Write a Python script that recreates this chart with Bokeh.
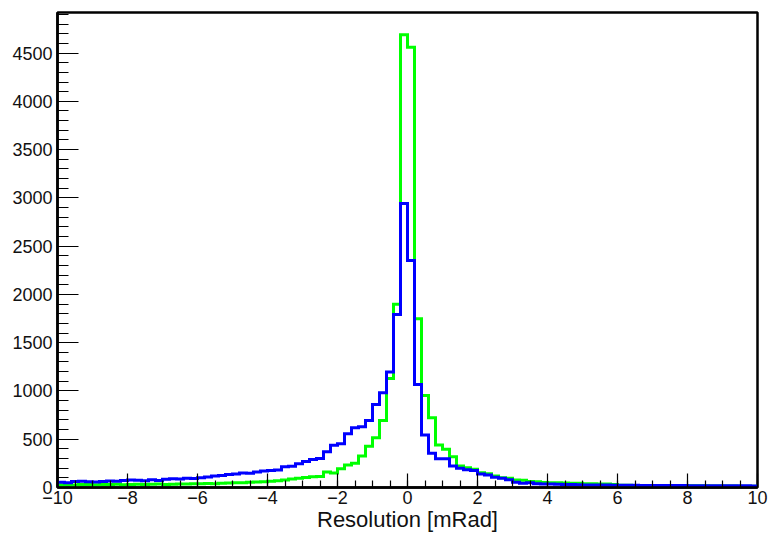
import numpy as np
from bokeh.plotting import figure
from bokeh.models import Range1d, SingleIntervalTicker, CustomJSTickFormatter
from bokeh.embed import file_html
from bokeh.resources import INLINE

# ---- data ----
x_min, x_max, bin_width = -10.0, 10.0, 0.2
y_max = 4920

green_counts = [
    28, 30, 26, 30, 32, 28, 31, 30, 33, 29, 32, 34, 31, 33, 35, 32, 34, 37, 35, 38,
    38, 42, 40, 45, 47, 50, 48, 54, 56, 60,
    66, 70, 78, 88, 96, 104,
    112, 115, 160, 150, 195, 232, 250, 326, 426, 516, 695, 1130, 1897, 4690,
    4560, 1748, 954, 723, 440, 395, 319, 223, 205, 188, 153, 143, 120, 100, 95, 78, 74, 62, 60, 52,
    50, 48, 47, 45, 44, 40, 38, 36, 35, 32,
    24, 23, 22, 22, 21, 20, 20, 19, 19, 18, 18, 17, 17, 16, 16, 15, 15, 14, 14, 13,
]

blue_counts = [
    55, 50, 62, 65, 60, 58, 63, 68, 66, 72, 78, 75, 70, 80, 72, 85, 90, 88, 95, 92,
    100, 110, 118, 125, 135, 140, 150, 148, 160, 170,
    175, 180, 215, 220, 246, 270,
    290, 300, 371, 437, 454, 557, 619, 630, 695, 861, 982, 1196, 1793, 2942,
    2352, 1068, 543, 354, 298, 298, 223, 200, 185, 175, 140, 130, 105, 95, 80, 55, 45, 48, 40, 35,
    35, 33, 30, 32, 28, 27, 26, 25, 25, 24,
    24, 23, 23, 22, 22, 21, 21, 20, 20, 20, 19, 19, 19, 18, 18, 18, 17, 17, 17, 16,
]

x_title = "Resolution [mRad]"
x_tick_step = 2
y_tick_step = 500

series_colors = {"green": "#00ff00", "blue": "#0000ff"}

# ---- build ----
nbins = len(green_counts)
edges = np.linspace(x_min, x_max, nbins + 1)


def outline(counts):
    c = np.asarray(counts, dtype=float)
    xs = np.repeat(edges, 2)
    ys = np.concatenate([[0.0], np.repeat(c, 2), [0.0]])
    return xs, ys


p = figure(
    width=770, height=537,
    x_range=Range1d(x_min, x_max), y_range=Range1d(0, y_max),
    output_backend="svg", toolbar_location=None,
    min_border_left=57, min_border_right=13, min_border_top=12, min_border_bottom=50,
    background_fill_color="white", border_fill_color="white",
)

for name, counts in (("green", green_counts), ("blue", blue_counts)):
    xs, ys = outline(counts)
    p.line(xs, ys, line_color=series_colors[name], line_width=3, line_join="miter")

p.xgrid.visible = False
p.ygrid.visible = False
p.outline_line_color = "black"
p.outline_line_width = 2.5
p.outline_line_alpha = 1.0

font = "Liberation Sans"

xa = p.xaxis[0]
xa.ticker = SingleIntervalTicker(interval=x_tick_step, num_minor_ticks=4)
xa.formatter = CustomJSTickFormatter(code="return String(tick).replace('-', '\u2212');")
xa.axis_line_width = 2.5
xa.axis_line_color = "black"
xa.major_tick_in = 14
xa.major_tick_out = 0
xa.minor_tick_in = 7
xa.minor_tick_out = 0
xa.major_tick_line_width = 1.2
xa.minor_tick_line_width = 1.2
xa.major_label_text_font = font
xa.major_label_text_font_size = "18px"
xa.major_label_text_color = "#111111"
xa.major_label_standoff = 3
xa.axis_label = x_title
xa.axis_label_text_font = font
xa.axis_label_text_font_size = "22px"
xa.axis_label_text_font_style = "normal"
xa.axis_label_text_color = "#111111"
xa.axis_label_standoff = 0

ya = p.yaxis[0]
ya.ticker = SingleIntervalTicker(interval=y_tick_step, num_minor_ticks=5)
ya.axis_line_width = 2.5
ya.axis_line_color = "black"
ya.major_tick_in = 21
ya.major_tick_out = 0
ya.minor_tick_in = 11
ya.minor_tick_out = 0
ya.major_tick_line_width = 1.2
ya.minor_tick_line_width = 1.2
ya.major_label_text_font = font
ya.major_label_text_font_size = "18px"
ya.major_label_text_color = "#111111"
ya.major_label_standoff = 5

open("out.html", "w", encoding="utf-8").write(file_html(p, INLINE))
